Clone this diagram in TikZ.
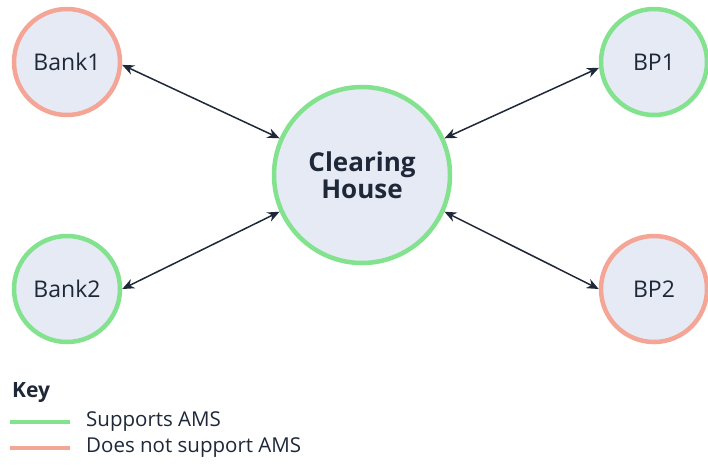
\documentclass[tikz,border=0pt]{standalone}
\usepackage{fontspec}
\setmainfont{Open Sans}
\usetikzlibrary{arrows.meta}
\definecolor{okgreen}{HTML}{82E28E}
\definecolor{nogreen}{HTML}{F5A595}
\definecolor{nodefill}{HTML}{E5EAF5}
\definecolor{ink}{HTML}{1E2838}
\tikzset{
  party/.style={circle, fill=nodefill, line width=4.5pt, minimum size=106pt, inner sep=0pt, text=ink, font=\fontsize{23}{27}\selectfont},
  hub/.style={party, minimum size=176pt, font=\fontsize{26}{27}\selectfont\bfseries, align=center},
  link/.style={draw=ink, line width=1.5pt, {Stealth[length=12pt,width=10pt]}-{Stealth[length=12pt,width=10pt]}},
  keyline/.style={line width=4.5pt},
  keytext/.style={anchor=west, inner sep=0pt, text=ink, font=\fontsize{20.5}{24}\selectfont}
}
\begin{document}
\begin{tikzpicture}[x=1pt,y=-1pt]
\useasboundingbox (0,0) rectangle (708,464);
\node[party, draw=nogreen] (bank1) at (67,62) {Bank1};
\node[party, draw=okgreen] (bank2) at (67,289) {Bank2};
\node[party, draw=okgreen] (bp1) at (654,62) {BP1};
\node[party, draw=nogreen] (bp2) at (654,289) {BP2};
\node[hub, draw=okgreen] (ch) at (362,175) {Clearing\\House};
\draw[link] (bank1.-3) -- (ch.156);
\draw[link] (bank2.0) -- (ch.204);
\draw[link] (bp1.186) -- (ch.24);
\draw[link] (bp2.180) -- (ch.-24);
\node[keytext, font=\fontsize{21}{24}\selectfont\bfseries] (key) at (12,393) {Key};
\coordinate (g1) at (10,422);
\coordinate (g2) at (70,422);
\coordinate (r1) at (10,448);
\coordinate (r2) at (70,448);
\draw[keyline, okgreen] (g1) -- (g2);
\draw[keyline, nogreen] (r1) -- (r2);
\node[keytext] (sup) at (86,422) {Supports AMS};
\node[keytext] (nosup) at (86,448) {Does not support AMS};
\end{tikzpicture}
\end{document}
